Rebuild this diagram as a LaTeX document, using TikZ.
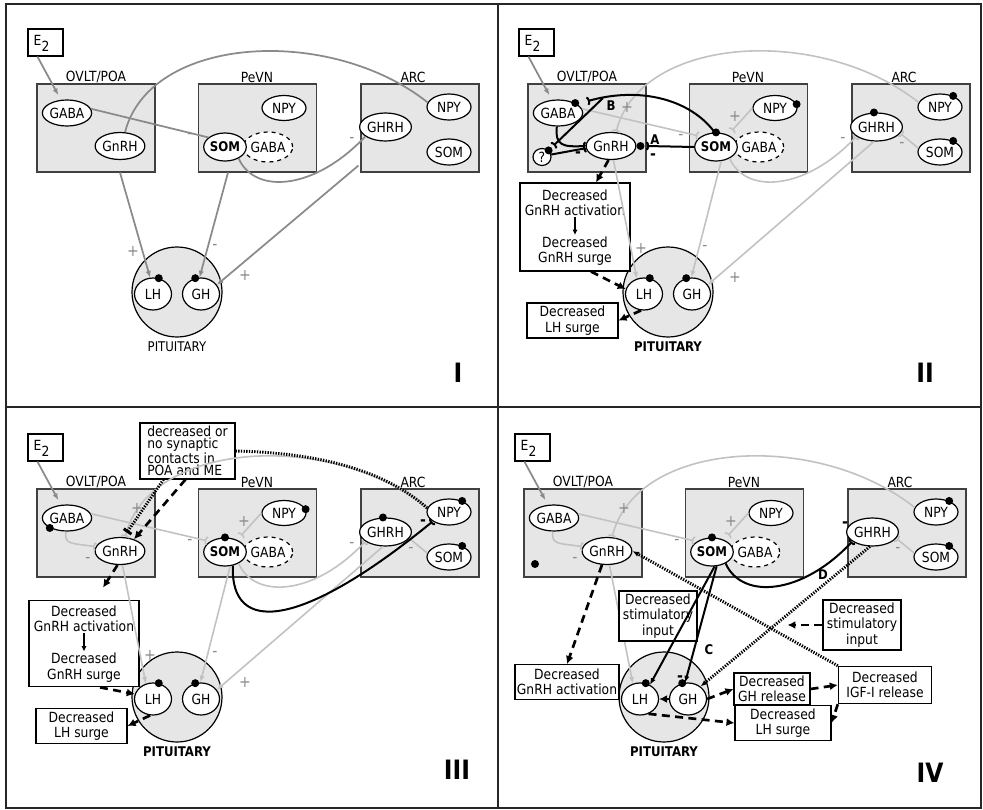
\documentclass[tikz,border=0pt]{standalone}
\usepackage{fontspec}
\setmainfont{DejaVu Sans}[FakeStretch=0.88]
\usetikzlibrary{arrows.meta,calc,shapes.geometric}

\definecolor{midgray}{HTML}{8A8A8A}
\definecolor{litegray}{HTML}{C2C2C2}
\definecolor{boxgray}{HTML}{E6E6E6}

\tikzset{
  region/.style={draw=black!75, fill=boxgray, line width=0.8pt, minimum width=88.5pt, minimum height=66pt, inner sep=0pt},
  cell/.style 2 args={ellipse, draw, fill=white, line width=0.9pt, inner sep=0pt, minimum width=#1*0.75pt, minimum height=#2*0.75pt},
  pit/.style={circle, draw, fill=boxgray, line width=0.9pt, minimum size=67.5pt, inner sep=0pt},
  ebox/.style={draw, fill=white, line width=0.8pt, minimum width=26.25pt, minimum height=20.25pt, inner sep=0pt},
  abox/.style={draw, fill=white, line width=0.8pt, inner sep=0pt, align=center},
  txt/.style={align=center, inner sep=1pt},
  sign/.style={text=midgray, font=\large, inner sep=0pt},
  bsign/.style={text=black, font=\large\bfseries, inner sep=0pt},
  tip/.style={-{Latex[length=5pt,width=4pt]}},
  syn/.style={-{Arc Barb[reversed,length=2pt,width=7pt]}},
  gline/.style={draw=midgray, line width=1.3pt},
  lline/.style={draw=litegray, line width=1.2pt},
  bline/.style={draw=black, line width=1.5pt},
  dasharrow/.style={draw=black, line width=2pt, dash pattern=on 6pt off 4pt, -{Latex[length=6pt,width=6pt]}},
  dotline/.style={draw=black, line width=2.2pt, dash pattern=on 1pt off 1pt},
  numeral/.style={font=\fontsize{20}{20}\selectfont\bfseries},
}

\newcommand{\syndot}[1]{\fill (#1) circle [radius=3pt];}
\newcommand{\sgn}[3]{\node[sign] (#1) at (#2) {#3};}
\newcommand{\bsgn}[3]{\node[bsign] (#1) at (#2) {#3};}

% common layout of one panel (local pixel coordinates)
\newcommand{\basepanel}[1]{%
  \node[ebox] (e2) at (45.5,42.5) {};
  \node[anchor=north west, inner sep=0pt] (e2t) at ([xshift=4.5pt,yshift=-5pt]e2.north west) {E\raisebox{-4.5pt}{2}};
  \node[region] (ovlt) at (96,128) {};
  \node (ovltl) at (96,77) {OVLT/POA};
  \node[region] (pevn) at (257.5,128) {};
  \node (pevnl) at (257,77) {PeVN};
  \node[region] (arc) at (420,128) {};
  \node (arcl) at (413,77) {ARC};
  \node[cell={44}{26}] (gaba) at (67,113) {GABA};
  \node[cell={40}{27}] (gnrh) at (120,146) {GnRH};
  \node[cell={44}{25}] (npyp) at (284,108) {NPY};
  \node[cell={40}{30},dashed] (gabap) at (268,147) {GABA};
  \node[cell={40}{28},font=\bfseries] (som) at (225,147) {SOM};
  \begin{scope}
    \clip (som.center) ellipse [x radius=20, y radius=14];
    \draw[dashed, line width=0.9pt] (gabap.center) ellipse [x radius=20, y radius=15];
  \end{scope}
  \node[cell={43}{28}] (ghrh) at (385.5,127) {GHRH};
  \node[cell={44}{26}] (npya) at (449,107) {NPY};
  \node[cell={44}{26}] (soma) at (449,152) {SOM};
  \node[pit] (pit) at (177,292) {};
  \node[cell={37}{32}] (lh) at (153,294) {LH};
  \node[cell={37}{32}] (gh) at (201,294) {GH};
  \node[font=#1] (pitl) at (177,347) {PITUITARY};
  \syndot{lh.70}
  \syndot{gh.110}
  \draw[gline,tip,shorten >=4pt] (e2.-120) -- (gaba.115);
}

\begin{document}
\begin{tikzpicture}[x=0.75pt,y=-0.75pt,font=\fontsize{10.5}{11.5}\selectfont]
\useasboundingbox (0,0) rectangle (983,810);

% frame
\draw[line width=2pt, draw=black!85] (6,4) rectangle (981,808);
\draw[line width=2pt, draw=black!85] (498,4) -- (498,808);
\draw[line width=2pt, draw=black!85] (6,407) -- (981,407);

% ---------- panel I
\begin{scope}[name prefix=p1-]
  \basepanel{}
  \draw[gline] (gaba.10) -- (som.150);
  \draw[gline] (gnrh.70) .. controls (150,35) and (330,25) .. (npya.168);
  \draw[gline,tip] (gnrh |- ovlt.south) -- (lh.100);
  \draw[gline,tip] ($(som |- pevn.south)+(3,0)$) -- (gh.95);
  \draw[gline,tip] ($(arc.south west)+(-2,-7)$) -- (gh.30);
  \draw[gline] (som.-40) .. controls (255,195) and (315,190) .. (ghrh.205);
  \sgn{m1}{190,136}{-}
  \sgn{m2}{133,251}{+}
  \sgn{m3}{215,247}{-}
  \sgn{m4}{245,275}{+}
  \sgn{m5}{352,140}{-}
  \node[numeral] (num) at (458,373) {I};
\end{scope}

% ---------- panel II
\begin{scope}[shift={(491,0)}, name prefix=p2-]
  \basepanel{\bfseries}
  \node[cell={18}{17}] (qq) at (51,157) {?};
  % effects
  \node[abox, minimum width=82.5pt, minimum height=66pt] (act) at (84,227) {};
  \node[txt] (act1) at (84,202.5) {Decreased\\GnRH activation};
  \node[txt] (act2) at (84,251) {Decreased\\GnRH surge};
  \draw[line width=1.4pt, -{Latex[length=4pt,width=4pt]}] (act1) -- (act2);
  \node[abox, minimum width=68.25pt, minimum height=26.25pt] (lhs) at (81.5,320.5) {Decreased\\LH surge};
  % normal pathways
  \draw[lline,syn,shorten >=2pt] (gaba.10) -- (som.145);
  \draw[lline,syn] (npya.168) .. controls (330,25) and (150,35) .. (gnrh.70);
  \draw[lline,syn,shorten >=4pt] (npyp.west) -- (som.45);
  \draw[lline,tip] (gnrh.-80) -- (lh.115);
  \draw[lline,tip] (som.-70) -- (gh.92);
  \draw[lline,tip] (ghrh.-100) -- (gh.30);
  \draw[lline,syn] (som.-40) .. controls (255,195) and (315,190) .. (ghrh.205);
  \draw[lline,syn] (soma.170) -- (ghrh.-15);
  % SOM actions
  \coordinate (br) at (112,98);
  \draw[bline,syn,shorten >=8pt] (som.95) .. controls (200,100) and (150,86) .. (gaba.25);
  \draw[bline,syn,shorten >=5pt] (br) -- (qq.45);
  \draw[bline,syn] (gaba.-95) .. controls (64,146) and (72,147) .. (gnrh.180);
  \draw[bline,syn] (qq.15) -- (gnrh.185);
  \draw[bline,syn] (som.west) -- ($(gnrh.east)+(10,0)$);
  \syndot{gaba.30}
  \syndot{som.90}
  \syndot{npyp.10}
  \syndot{ghrh.100}
  \syndot{npya.40}
  \syndot{soma.40}
  \syndot{qq.45}
  \fill ($(gnrh.east)+(4,0)$) circle [radius=3pt];
  \draw[dasharrow] (gnrh.-100) -- ($(act.north)+(21,0)$);
  \draw[dasharrow] ($(act.south)+(16,0)$) -- (lh.165);
  \draw[dasharrow] (lh.-100) -- (lhs.east);
  \node[font=\bfseries] (lb) at (120,106) {B};
  \node[font=\bfseries] (la) at (164,140) {A};
  \bsgn{k1}{87,155}{-}
  \bsgn{k2}{162,157}{-}
  \sgn{m1}{190,137}{-}
  \sgn{m2}{136,107}{+}
  \sgn{m3}{244,116}{+}
  \sgn{m4}{352,140}{-}
  \sgn{m5}{411,145}{-}
  \sgn{m6}{150,248}{+}
  \sgn{m7}{214,248}{-}
  \sgn{m8}{244,277}{+}
  \node[numeral] (num) at (434,373) {II};
\end{scope}

% ---------- panel III
\begin{scope}[shift={(0,405)}, name prefix=p3-]
  \basepanel{\bfseries}
  \node[abox, minimum width=82.5pt, minimum height=65pt] (act) at (84,238.5) {};
  \node[txt] (act1) at (84,213.5) {Decreased\\GnRH activation};
  \node[txt] (act2) at (84,262.5) {Decreased\\GnRH surge};
  \draw[line width=1.4pt, -{Latex[length=4pt,width=4pt]}] (act1) -- (act2);
  \node[abox, minimum width=68.25pt, minimum height=26.25pt] (lhs) at (81.5,321) {Decreased\\LH surge};
  \node[abox, align=left, minimum width=71.25pt, minimum height=42pt, font=\fontsize{10.5}{9}\selectfont] (nsyn) at (187.5,46) {decreased or\\no synaptic\\contacts in\\POA and ME};
  % normal pathways
  \draw[lline,syn,shorten >=2pt] (gaba.10) -- (som.145);
  \draw[lline,syn] (npya.168) .. controls (330,25) and (150,35) .. (gnrh.70);
  \draw[lline,syn,shorten >=4pt] (npyp.west) -- (som.45);
  \draw[lline,syn] (gaba.-95) .. controls (64,140) and (72,138) .. (gnrh.170);
  \draw[lline,tip] (gnrh.-80) -- (lh.115);
  \draw[lline,tip] (som.-70) -- (gh.92);
  \draw[lline,tip] (ghrh.-100) -- (gh.30);
  \draw[lline,syn] (som.-40) .. controls (255,195) and (315,190) .. (ghrh.205);
  \draw[lline,syn] (soma.170) -- (ghrh.-15);
  % altered pathways
  \draw[dotline] (nsyn.east) .. controls (330,48) and (390,70) .. (npya.170);
  \draw[dotline,-{Bar[width=7pt]},shorten >=4pt] ($(nsyn.south)+(-24,0)$) -- (gnrh.75);
  \draw[dasharrow] ($(nsyn.south)+(-2,0)$) -- (gnrh.40);
  \draw[bline,syn] (som.-60) .. controls (230,230) and (300,225) .. (npya.-150);
  \syndot{gaba.210}
  \syndot{som.90}
  \syndot{npyp.10}
  \syndot{ghrh.100}
  \syndot{npya.40}
  \syndot{soma.40}
  \draw[dasharrow] (gnrh.-100) -- ($(act.north)+(19,-12)$);
  \draw[dasharrow] ($(act.south)+(16,0)$) -- (lh.165);
  \draw[dasharrow] (lh.-100) -- (lhs.east);
  \bsgn{k1}{423,118}{-}
  \sgn{m1}{190,137}{-}
  \sgn{m2}{137,103}{+}
  \sgn{m3}{244,116}{+}
  \sgn{m4}{88,155}{-}
  \sgn{m5}{352,140}{-}
  \sgn{m6}{411,145}{-}
  \sgn{m7}{150,250}{+}
  \sgn{m8}{215,249}{-}
  \sgn{m9}{245,277}{+}
  \node[numeral] (num) at (457,365) {III};
\end{scope}

% ---------- panel IV
\begin{scope}[shift={(487,405)}, name prefix=p4-]
  \basepanel{\bfseries}
  % normal pathways
  \draw[lline,syn,shorten >=2pt] (gaba.10) -- (som.145);
  \draw[lline,syn] (npya.168) .. controls (330,25) and (150,35) .. (gnrh.70);
  \draw[lline,syn,shorten >=4pt] (npyp.west) -- (som.45);
  \draw[lline,syn] (gaba.-95) .. controls (64,140) and (72,138) .. (gnrh.170);
  \draw[lline,tip] (gnrh.-80) -- (lh.115);
  \draw[lline,syn] (soma.170) -- (ghrh.-15);
  % boxes
  \node[abox, minimum width=58.5pt, minimum height=37.5pt] (stim1) at (171,211) {Decreased\\stimulatory\\input};
  \node[abox, minimum width=58.5pt, minimum height=37.5pt] (stim2) at (375,220) {Decreased\\stimulatory\\input};
  \node[abox, minimum width=78pt, minimum height=26pt] (gact) at (80,277) {Decreased\\GnRH activation};
  \node[abox, minimum width=57pt, minimum height=24pt] (ghr) at (285,284) {Decreased\\GH release};
  \node[abox, minimum width=70pt, minimum height=28pt] (igf) at (398,280) {Decreased\\IGF-I release};
  \node[abox, minimum width=72pt, minimum height=26pt] (lhs) at (296,318) {Decreased\\LH surge};
  % altered pathways
  \draw[bline,syn] (som.-40) .. controls (255,195) and (315,190) .. (ghrh.205);
  \draw[bline,tip] (som.-80) -- (lh.55);
  \draw[bline,tip] (som.-72) -- (gh.100);
  \draw[dotline,tip] (igf.north west) -- (gnrh.east);
  \draw[dotline,tip] (ghrh.-100) -- (gh.45);
  \draw[dasharrow] (gnrh.-110) -- (gact.north);
  \draw[dasharrow] (stim2.west) -- ++(-35,0);
  \draw[dasharrow] (gh.east) -- (ghr.west);
  \draw[dasharrow] (ghr.east) -- (igf.west);
  \draw[dasharrow] (igf.south west) -- (lhs.east);
  \draw[dasharrow] (lh.-60) -- (lhs.west);
  \draw[dasharrow] (gh.west) -- (lh.east);
  \syndot{som.90}
  \syndot{npya.40}
  \syndot{soma.40}
  \fill (48,159) circle [radius=3pt];
  \node[font=\bfseries] (lc) at (222,245) {C};
  \node[font=\bfseries] (ld) at (336,170) {D};
  \bsgn{k1}{358,120}{-}
  \bsgn{k2}{193,274}{-}
  \sgn{m1}{190,137}{-}
  \sgn{m2}{137,103}{+}
  \sgn{m3}{244,116}{+}
  \sgn{m4}{88,155}{-}
  \sgn{m5}{411,145}{-}
  \node[numeral] (num) at (443,368) {IV};
\end{scope}
\end{tikzpicture}
\end{document}
